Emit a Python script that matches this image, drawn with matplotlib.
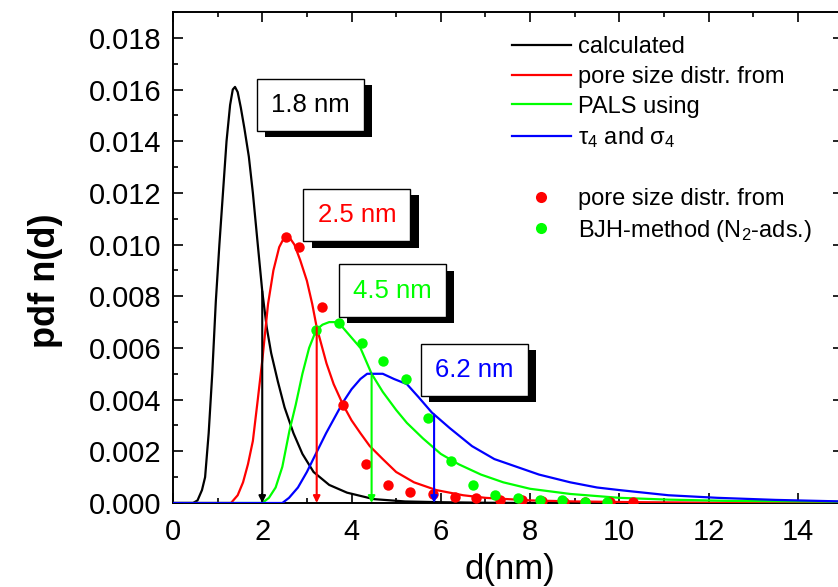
import numpy as np
import matplotlib
matplotlib.use("Agg")
import matplotlib.pyplot as plt
import matplotlib.patheffects as pe
from matplotlib.lines import Line2D
from matplotlib.ticker import MultipleLocator, FormatStrFormatter

plt.rcParams['font.family'] = ['Liberation Sans', 'DejaVu Sans']
plt.rcParams['mathtext.fontset'] = 'custom'
plt.rcParams['mathtext.rm'] = 'Liberation Sans'
plt.rcParams['mathtext.it'] = 'Liberation Sans:italic'

# calculated pdf curves
d_black = [0.0, 0.45, 0.55, 0.65, 0.72, 0.8, 0.88, 0.96, 1.04, 1.12, 1.2, 1.28, 1.34, 1.39, 1.45,
           1.52, 1.6, 1.7, 1.79, 1.9, 2.0, 2.1, 2.2, 2.35, 2.5, 2.7, 2.9, 3.15, 3.5, 3.9, 4.5,
           5.2, 6.0, 7.0, 8.0, 15.0]
n_black = [0, 0, 0.0001, 0.0005, 0.0010, 0.0027, 0.0050, 0.0078, 0.0100, 0.0120, 0.0140, 0.0154,
           0.0160, 0.0161, 0.0159, 0.0153, 0.0145, 0.0134, 0.0120, 0.0100, 0.0082, 0.0068, 0.0058,
           0.0047, 0.0037, 0.0027, 0.0019, 0.0012, 0.0007, 0.0004, 0.00015, 0.00006, 0.00003,
           0.00001, 0.0, 0.0]

d_red = [0.0, 1.3, 1.45, 1.57, 1.68, 1.79, 1.9, 2.0, 2.13, 2.25, 2.38, 2.5, 2.6, 2.72, 2.85, 3.0,
         3.12, 3.22, 3.33, 3.44, 3.6, 3.81, 4.0, 4.2, 4.41, 4.7, 5.0, 5.4, 5.9, 6.5, 7.0, 8.0, 9.0,
         10.5, 12.0, 15.0]
n_red = [0, 0, 0.0003, 0.0008, 0.0015, 0.0024, 0.0040, 0.0055, 0.0077, 0.0090, 0.0099, 0.0103,
         0.0103, 0.0100, 0.0094, 0.0086, 0.0077, 0.0068, 0.0061, 0.0054, 0.0046, 0.0038, 0.0032,
         0.0027, 0.0022, 0.0017, 0.0012, 0.0008, 0.0005, 0.0003, 0.0002, 0.0001, 0.00006,
         0.00003, 0.00001, 0.0]

d_green = [0.0, 2.0, 2.15, 2.3, 2.45, 2.61, 2.75, 2.9, 3.05, 3.21, 3.35, 3.5, 3.62, 3.75, 3.9,
           4.05, 4.2, 4.45, 4.7, 5.0, 5.24, 5.6, 6.0, 6.4, 6.9, 7.4, 8.0, 8.9, 10.0, 11.1, 12.5, 15.0]
n_green = [0, 0, 0.0002, 0.0006, 0.0014, 0.0028, 0.0038, 0.0050, 0.0060, 0.0067, 0.0069, 0.0070,
           0.0070, 0.0069, 0.0066, 0.0063, 0.0060, 0.0050, 0.0043, 0.0036, 0.0031, 0.0025, 0.0019,
           0.0015, 0.0011, 0.0008, 0.00055, 0.00035, 0.0002, 0.00013, 0.00008, 0.00005]

d_blue = [0.0, 2.45, 2.6, 2.8, 3.0, 3.2, 3.43, 3.62, 3.81, 4.0, 4.2, 4.35, 4.5, 4.7, 4.95, 5.24,
          5.5, 5.8, 6.2, 6.7, 7.2, 7.7, 8.2, 8.9, 9.5, 10.0, 11.1, 12.2, 13.5, 15.0]
n_blue = [0, 0, 0.0002, 0.0006, 0.0012, 0.0019, 0.0027, 0.0033, 0.0039, 0.0044, 0.0048, 0.0050,
          0.0050, 0.0050, 0.0048, 0.0046, 0.0041, 0.0035, 0.0029, 0.0022, 0.0017, 0.0014, 0.0011,
          0.0008, 0.0006, 0.0005, 0.0003, 0.0002, 0.00012, 0.00006]

# BJH points
d_bjh_red = [2.54, 2.82, 3.33, 3.81, 4.32, 4.82, 5.31, 5.83, 6.32, 6.8, 7.33, 7.81, 8.27, 8.76,
             9.23, 9.79, 10.3]
n_bjh_red = [0.0103, 0.0099, 0.0076, 0.0038, 0.0015, 0.0007, 0.00044, 0.00034, 0.00023, 0.00018,
             0.0001, 0.0001, 0.00006, 0.00005, 0.00005, 0.00004, 0.00004]
d_bjh_green = [3.21, 3.71, 4.23, 4.71, 5.22, 5.72, 6.22, 6.73, 7.21, 7.73, 8.22, 8.71, 9.23, 9.72]
n_bjh_green = [0.0067, 0.00695, 0.0062, 0.0055, 0.0048, 0.0033, 0.00163, 0.0007, 0.0003, 0.0002,
               0.0001, 0.0001, 0.00005, 0.00005]

# mean pore sizes marked with arrows and boxes
arrow_d = [2.0, 3.22, 4.45, 5.85]
box_labels = ['1.8 nm', '2.5 nm', '4.5 nm', '6.2 nm']
box_pos = [(3.08, 0.0154), (4.12, 0.01113), (4.92, 0.00822), (6.75, 0.00516)]

colors = ['black', '#ff0000', '#00ff00', '#0000ff']
curves = [(d_black, n_black), (d_red, n_red), (d_green, n_green), (d_blue, n_blue)]

fig = plt.figure(figsize=(8.38, 5.87), dpi=100)
ax = fig.add_axes([0.2064, 0.1431, 0.799, 0.8365])

lines = []
for (dx, ny), c in zip(curves, colors):
    l, = ax.plot(dx, ny, color=c, lw=1.6, zorder=3)
    lines.append(l)

ax.plot(d_bjh_red, n_bjh_red, 'o', color='#ff0000', ms=7.5, mec='none', zorder=4)
ax.plot(d_bjh_green, n_bjh_green, 'o', color='#00ff00', ms=7.5, mec='none', zorder=4)

for xa, (dx, ny), c in zip(arrow_d, curves, colors):
    top = np.interp(xa, dx, ny)
    ax.annotate('', xy=(xa, 0), xytext=(xa, top),
                arrowprops=dict(arrowstyle='-|>', color=c, lw=1.5, mutation_scale=10,
                                shrinkA=0, shrinkB=0), zorder=5)

for txt, (bx, by), c in zip(box_labels, box_pos, colors):
    t = ax.text(bx, by, txt, ha='center', va='center', fontsize=18.5, color=c, zorder=6,
                bbox=dict(boxstyle='square,pad=0.55', fc='white', ec='black', lw=1.0))
    t.get_bbox_patch().set_path_effects([
        pe.withSimplePatchShadow(offset=(6, -4.5), shadow_rgbFace='black', alpha=1.0)])

ax.set_xlim(0, 15)
ax.set_ylim(0, 0.019)
ax.xaxis.set_major_locator(MultipleLocator(2))
ax.xaxis.set_minor_locator(MultipleLocator(1))
ax.yaxis.set_major_locator(MultipleLocator(0.002))
ax.yaxis.set_minor_locator(MultipleLocator(0.001))
ax.yaxis.set_major_formatter(FormatStrFormatter('%.3f'))
ax.tick_params(which='both', direction='in', top=True, right=True, width=1.2)
ax.tick_params(which='major', length=7, labelsize=21, pad=8)
ax.tick_params(axis='x', which='major', pad=11)
ax.tick_params(which='minor', length=3.5)
for s in ax.spines.values():
    s.set_linewidth(1.4)

ax.set_xlabel('d(nm)', fontsize=25)
ax.xaxis.set_label_coords(0.503, -0.135)
ax.xaxis.label.set_va('center')
ax.set_ylabel('pdf n(d)', fontsize=26, fontweight='bold')
ax.yaxis.set_label_coords(-0.191, 0.452)
ax.yaxis.label.set_va('center')

blank = Line2D([], [], color='none')
m_red = Line2D([], [], ls='none', marker='o', color='#ff0000', ms=8, mec='none')
m_green = Line2D([], [], ls='none', marker='o', color='#00ff00', ms=8, mec='none')
handles = lines + [blank, m_red, m_green]
labels = ['calculated', 'pore size distr. from', 'PALS using', r'τ$_4$ and σ$_4$', ' ',
          'pore size distr. from', r'BJH-method (N$_2$-ads.)']
ax.legend(handles, labels, loc='upper left', bbox_to_anchor=(0.506, 0.951), frameon=False,
          fontsize=17, handlelength=2.5, handletextpad=0.3, labelspacing=0.33,
          borderpad=0, borderaxespad=0, numpoints=1)

fig.savefig('out.png', dpi=100)
